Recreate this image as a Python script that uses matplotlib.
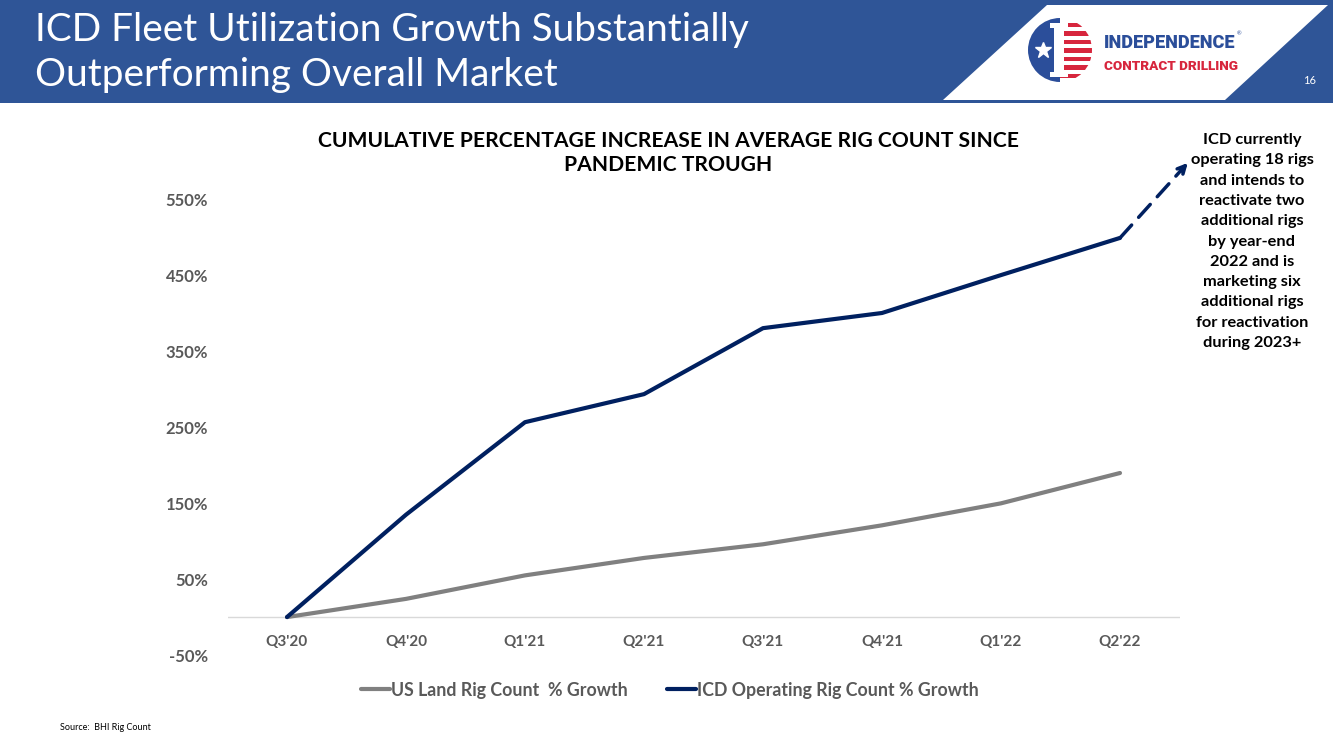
import matplotlib
matplotlib.use("Agg")
import matplotlib.pyplot as plt
from matplotlib.patches import Polygon, Wedge, Rectangle, Circle
import numpy as np

categories = ["Q3'20", "Q4'20", "Q1'21", "Q2'21", "Q3'21", "Q4'21", "Q1'22", "Q2'22"]
us_land = [0, 24, 55, 78, 96, 121, 150, 190]
icd = [0, 135, 257, 294, 381, 401, 451, 500]
yticks = [-50, 50, 150, 250, 350, 450, 550]

W, H = 1333, 750
plt.rcParams['font.family'] = ['Lato', 'DejaVu Sans']
fig = plt.figure(figsize=(W / 100, H / 100), dpi=100)
fig.patch.set_facecolor('white')

def fx(x):
    return x / W

def fy(y):
    return 1 - y / H

# Header band
blue = '#2F5597'
fig.patches.append(Rectangle((0, fy(103)), 1, 103 / H, transform=fig.transFigure,
                             facecolor=blue, edgecolor='none', zorder=0))
fig.patches.append(Polygon([(fx(943), fy(100)), (fx(1047), fy(5)), (fx(1328), fy(5)), (fx(1225), fy(100))],
                           closed=True, transform=fig.transFigure, facecolor='white', edgecolor='none', zorder=1))
fig.text(fx(35), fy(30), "ICD Fleet Utilization Growth Substantially", color='white', fontsize=27.9,
         va='center', ha='left', family=['Lato', 'DejaVu Sans'])
fig.text(fx(35), fy(75), "Outperforming Overall Market", color='white', fontsize=27.9,
         va='center', ha='left', family=['Lato', 'DejaVu Sans'])
fig.text(fx(1310), fy(81), "16", color='white', fontsize=8, ha='center', va='center')

# Logo (simplified)
lax = fig.add_axes([fx(1020), fy(85), fx(80), 70 / H], zorder=5)
lax.set_xlim(-40, 40)
lax.set_ylim(-35, 35)
lax.set_aspect('equal')
lax.axis('off')
circ = Circle((0, 0), 32, transform=lax.transData)
w1 = Wedge((0, 0), 32, 90, 270, facecolor='#2B4E9A', edgecolor='none')
w2 = Wedge((0, 0), 32, -90, 90, facecolor='white', edgecolor='none')
lax.add_patch(w1)
lax.add_patch(w2)
for i in range(7):
    yy = -28 + i * 8.5
    r = Rectangle((0, yy), 32, 4.5, facecolor='#D7263D', edgecolor='none')
    lax.add_patch(r)
    r.set_clip_path(circ)
lax.add_patch(Rectangle((-6, -27), 10, 54, facecolor='white', edgecolor='none'))
lax.add_patch(Rectangle((-10, 22), 18, 5, facecolor='white', edgecolor='none'))
lax.add_patch(Rectangle((-10, -27), 18, 5, facecolor='white', edgecolor='none'))
lax.plot([-17], [0], marker='*', color='white', markersize=12)
fig.text(fx(1104), fy(43), "INDEPENDENCE", color='#2B4E9A', fontsize=13.1, fontweight='heavy',
         ha='left', va='center', family=['Roboto', 'DejaVu Sans'])
fig.text(fx(1237), fy(34), "®", color='#2B4E9A', fontsize=4, ha='left', va='center')
fig.text(fx(1104), fy(67), "CONTRACT DRILLING", color='#D7263D', fontsize=9.7, fontweight='heavy',
         ha='left', va='center', family=['Roboto', 'DejaVu Sans'])

# Chart
ax = fig.add_axes([fx(227.5), fy(655), fx(1179.5 - 227.5), (655 - 200) / H])
x = np.arange(len(categories))
ax.plot(x, us_land, color='#808080', lw=3, label='US Land Rig Count  % Growth', solid_capstyle='round', zorder=3)
ax.plot(x, icd, color='#002060', lw=3, label='ICD Operating Rig Count % Growth', solid_capstyle='round', zorder=4)
ax.axhline(0, color='#D9D9D9', lw=1, zorder=1)
ax.set_xlim(-0.5, len(categories) - 0.5)
ax.set_ylim(-50, 550)
ax.set_yticks(yticks)
ax.set_yticklabels([f"{v}%" for v in yticks])
ax.set_xticks([])
for s in ax.spines.values():
    s.set_visible(False)
ax.tick_params(axis='y', length=0, pad=14, labelsize=12, labelcolor='#595959')
for lbl in ax.get_yticklabels():
    lbl.set_fontweight('bold')
for i, c in enumerate(categories):
    ax.text(i, -33, c, ha='center', va='center', fontsize=11, fontweight='bold', color='#595959')

# Dashed arrow
ax.annotate('', xy=(7.57, 599), xytext=(7, 500), xycoords='data',
            arrowprops=dict(arrowstyle='-|>', color='#002060', lw=2.5, linestyle=(0, (5, 3)),
                            mutation_scale=14, shrinkA=0, shrinkB=0), annotation_clip=False)

leg = ax.legend(loc='center', bbox_to_anchor=(0.465, -0.077), ncol=2, frameon=False,
                fontsize=12.8, handlelength=1.6, handletextpad=0.1, columnspacing=2.2)
for t in leg.get_texts():
    t.set_color('#595959')
    t.set_fontweight('bold')

fig.text(fx(668), fy(153), "CUMULATIVE PERCENTAGE INCREASE IN AVERAGE RIG COUNT SINCE\nPANDEMIC TROUGH",
         ha='center', va='center', fontsize=15.2, fontweight='bold', color='black', linespacing=1.3)

note_lines = ["ICD currently", "operating 18 rigs", "and intends to", "reactivate two", "additional rigs",
              "by year-end", "2022 and is", "marketing six", "additional rigs", "for reactivation",
              "during 2023+"]
for k, line in enumerate(note_lines):
    fig.text(fx(1252), fy(140 + 20.3 * k), line, ha='center', va='center', fontsize=11.8,
             fontweight='bold', color='black')

fig.text(fx(60), fy(727), "Source:  BHI Rig Count", ha='left', va='center', fontsize=6.5, color='black')

fig.savefig('out.png', dpi=100)
